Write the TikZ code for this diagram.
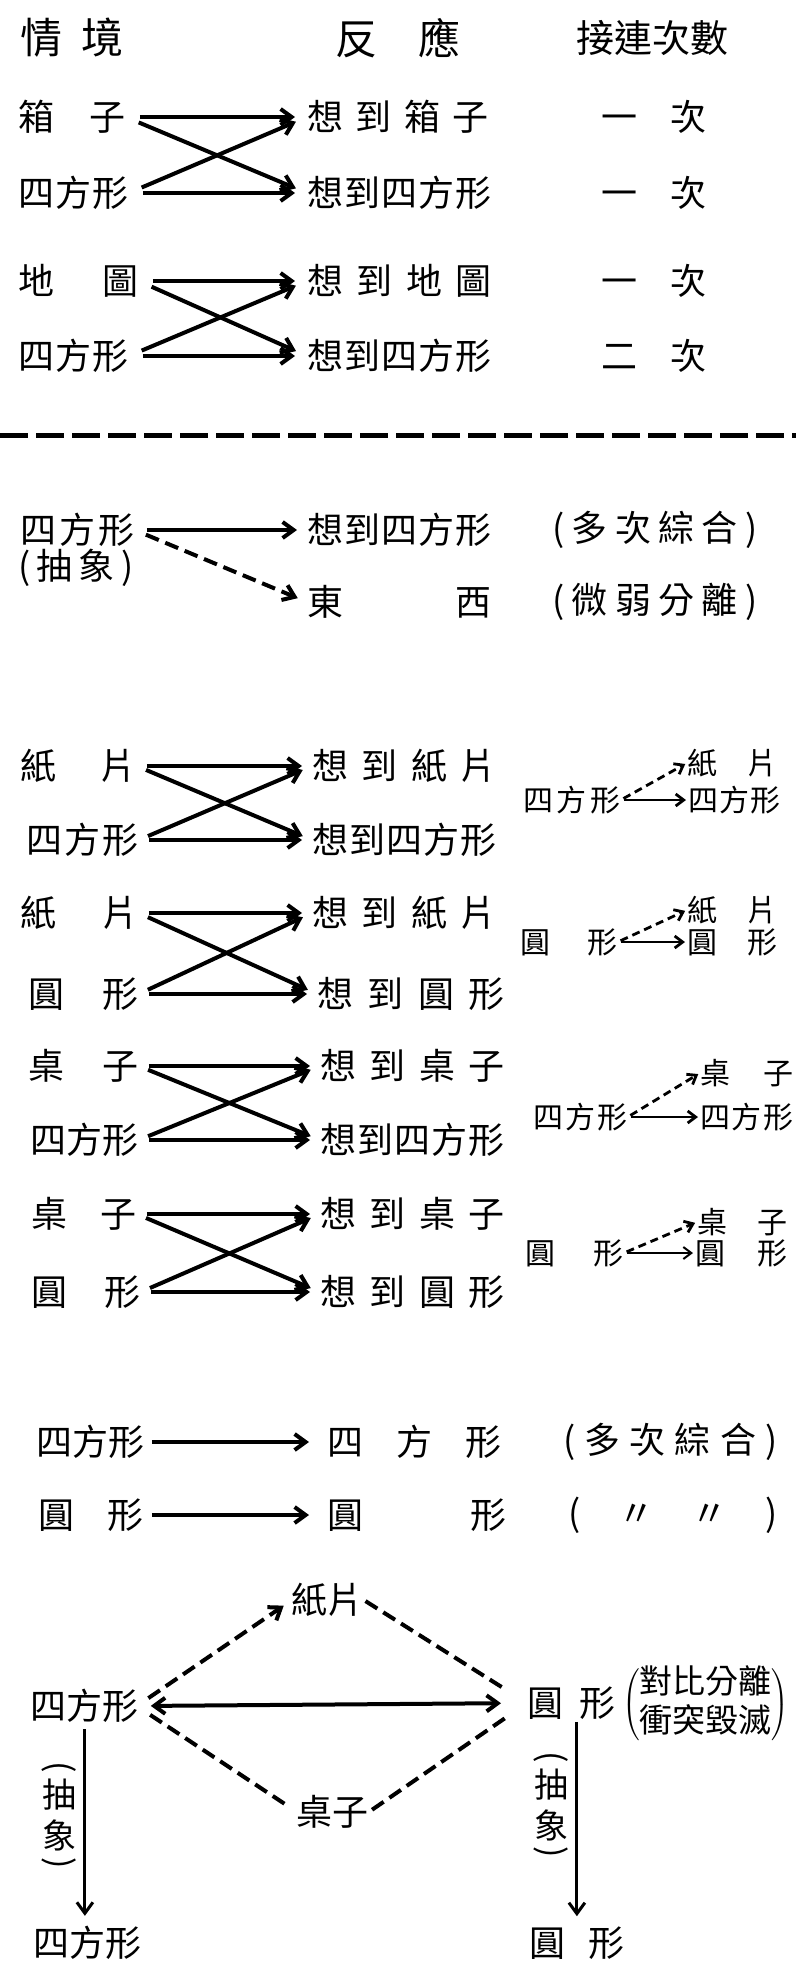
\documentclass[tikz,border=0pt]{standalone}
\usepackage{fontspec}
\setmainfont{Noto Sans CJK TC}
\usetikzlibrary{arrows.meta}
\newcommand{\spreadtxt}[2]{\makebox[#1]{#2}}
\begin{document}
\begin{tikzpicture}[x=0.5pt,y=-0.5pt,
 lbl/.style={anchor=west, inner sep=0pt, font=\fontsize{18}{20}\selectfont},
 hdr/.style={lbl, font=\fontsize{21}{24}\selectfont},
 sml/.style={lbl, font=\fontsize{15}{17}\selectfont},
 vlab/.style={inner sep=0pt, align=center, font=\fontsize{17}{20.5}\selectfont},
 vpar/.style={inner sep=0pt, rotate=-90, font=\fontsize{17}{20}\selectfont},
 barb/.tip={Straight Barb[length=5.5pt,width=8pt]},
 sbarb/.tip={Straight Barb[length=4pt,width=6pt]},
 bigarr/.style={line width=2pt, -barb},
 dsh/.style={line width=2pt, dash pattern=on 7pt off 3.5pt},
 smlarr/.style={line width=1.4pt, -sbarb},
 smldsh/.style={line width=1.4pt, dash pattern=on 4pt off 2.5pt, -sbarb},
 varr/.style={line width=1.5pt, -barb},
]
\fill[white] (0,0) rectangle (796,1967);
\path[use as bounding box] (0,0) rectangle (796,1967);

% ---------- section 1
\node[hdr] (h1) at (20,38) {\spreadtxt{51.5pt}{情\hfill 境}};
\node[hdr] (h2) at (335,38) {\spreadtxt{62.5pt}{反\hfill 應}};
\node[lbl, font=\fontsize{19}{22}\selectfont] (h3) at (578,38) {\spreadtxt{74pt}{接\hfill 連\hfill 次\hfill 數}};

\node[lbl] (a1) at (18,117) {\spreadtxt{53.5pt}{箱\hfill 子}};
\node[lbl] (a2) at (18,193) {\spreadtxt{55pt}{四\hfill 方\hfill 形}};
\node[lbl] (a3) at (18,281) {\spreadtxt{60pt}{地\hfill 圖}};
\node[lbl] (a4) at (18,356) {\spreadtxt{55pt}{四\hfill 方\hfill 形}};

\node[lbl] (b1) at (307,117) {\spreadtxt{90.5pt}{想\hfill 到\hfill 箱\hfill 子}};
\node[lbl] (b2) at (307,193) {\spreadtxt{92pt}{想\hfill 到\hfill 四\hfill 方\hfill 形}};
\node[lbl] (b3) at (307,281) {\spreadtxt{92pt}{想\hfill 到\hfill 地\hfill 圖}};
\node[lbl] (b4) at (307,356) {\spreadtxt{92pt}{想\hfill 到\hfill 四\hfill 方\hfill 形}};

\node[lbl] (c1) at (601,117) {\spreadtxt{52.5pt}{一\hfill 次}};
\node[lbl] (c2) at (601,193) {\spreadtxt{52.5pt}{一\hfill 次}};
\node[lbl] (c3) at (601,281) {\spreadtxt{52.5pt}{一\hfill 次}};
\node[lbl] (c4) at (601,356) {\spreadtxt{52.5pt}{二\hfill 次}};

\begin{scope}[shorten <=7pt, shorten >=6pt]
\draw[bigarr] (a1.east) -- (b1.west);
\draw[bigarr] (a1.east) -- (b2.west);
\draw[bigarr] (a2.east) -- (b1.west);
\draw[bigarr] (a2.east) -- (b2.west);
\draw[bigarr] (a3.east) -- (b3.west);
\draw[bigarr] (a3.east) -- (b4.west);
\draw[bigarr] (a4.east) -- (b3.west);
\draw[bigarr] (a4.east) -- (b4.west);
\end{scope}

% divider
\draw[line width=2.5pt, dash pattern=on 14pt off 4pt] (0,435) -- (796,435);

% ---------- section 2
\node[lbl] (d1) at (20,530) {\spreadtxt{57pt}{四\hfill 方\hfill 形}};
\node[lbl] (d2) at (18,568) {\spreadtxt{57.5pt}{(\hfill 抽\hfill 象\hfill )}};
\node[lbl] (e1) at (307,530) {\spreadtxt{92pt}{想\hfill 到\hfill 四\hfill 方\hfill 形}};
\node[lbl] (e2) at (307,602) {\spreadtxt{92pt}{東\hfill 西}};
\node[lbl] (f1) at (552,530) {\spreadtxt{102.5pt}{(\hfill 多\hfill 次\hfill 綜\hfill 合\hfill )}};
\node[lbl] (f2) at (552,602) {\spreadtxt{102.5pt}{(\hfill 微\hfill 弱\hfill 分\hfill 離\hfill )}};
\draw[bigarr, shorten <=6pt, shorten >=5pt] (d1.east) -- (e1.west);
\draw[bigarr, dsh, shorten <=6pt, shorten >=5pt] (d1.east) -- (e2.west);

% ---------- section 3
\node[lbl] (g1) at (20,766) {\spreadtxt{58pt}{紙\hfill 片}};
\node[lbl] (g2) at (26,840) {\spreadtxt{56pt}{四\hfill 方\hfill 形}};
\node[lbl] (g3) at (20,913) {\spreadtxt{59pt}{紙\hfill 片}};
\node[lbl] (g4) at (28,994) {\spreadtxt{55pt}{圓\hfill 形}};
\node[lbl] (g5) at (28,1066) {\spreadtxt{55pt}{桌\hfill 子}};
\node[lbl] (g6) at (31,1140) {\spreadtxt{53.5pt}{四\hfill 方\hfill 形}};
\node[lbl] (g7) at (31,1214) {\spreadtxt{52.5pt}{桌\hfill 子}};
\node[lbl] (g8) at (31,1292) {\spreadtxt{54.5pt}{圓\hfill 形}};

\node[lbl] (k1) at (312,766) {\spreadtxt{92pt}{想\hfill 到\hfill 紙\hfill 片}};
\node[lbl] (k2) at (312,840) {\spreadtxt{92pt}{想\hfill 到\hfill 四\hfill 方\hfill 形}};
\node[lbl] (k3) at (312,913) {\spreadtxt{92pt}{想\hfill 到\hfill 紙\hfill 片}};
\node[lbl] (k4) at (317,994) {\spreadtxt{93.5pt}{想\hfill 到\hfill 圓\hfill 形}};
\node[lbl] (k5) at (320,1066) {\spreadtxt{92pt}{想\hfill 到\hfill 桌\hfill 子}};
\node[lbl] (k6) at (320,1140) {\spreadtxt{92pt}{想\hfill 到\hfill 四\hfill 方\hfill 形}};
\node[lbl] (k7) at (320,1214) {\spreadtxt{92pt}{想\hfill 到\hfill 桌\hfill 子}};
\node[lbl] (k8) at (320,1292) {\spreadtxt{92pt}{想\hfill 到\hfill 圓\hfill 形}};

\begin{scope}[shorten <=5pt, shorten >=5pt]
\draw[bigarr] (g1.east) -- (k1.west);
\draw[bigarr] (g1.east) -- (k2.west);
\draw[bigarr] (g2.east) -- (k1.west);
\draw[bigarr] (g2.east) -- (k2.west);
\draw[bigarr] (g3.east) -- (k3.west);
\draw[bigarr] (g3.east) -- (k4.west);
\draw[bigarr] (g4.east) -- (k3.west);
\draw[bigarr] (g4.east) -- (k4.west);
\draw[bigarr] (g5.east) -- (k5.west);
\draw[bigarr] (g5.east) -- (k6.west);
\draw[bigarr] (g6.east) -- (k5.west);
\draw[bigarr] (g6.east) -- (k6.west);
\draw[bigarr] (g7.east) -- (k7.west);
\draw[bigarr] (g7.east) -- (k8.west);
\draw[bigarr] (g8.east) -- (k7.west);
\draw[bigarr] (g8.east) -- (k8.west);
\end{scope}

% right column
\node[sml] (r1) at (523,800) {\spreadtxt{48.5pt}{四\hfill 方\hfill 形}};
\node[sml] (t1a) at (687,763) {\spreadtxt{45pt}{紙\hfill 片}};
\node[sml] (t1b) at (688,800) {\spreadtxt{46pt}{四\hfill 方\hfill 形}};
\node[sml] (r2) at (520,942) {\spreadtxt{48.5pt}{圓\hfill 形}};
\node[sml] (t2a) at (687,910) {\spreadtxt{45pt}{紙\hfill 片}};
\node[sml] (t2b) at (687,942) {\spreadtxt{45pt}{圓\hfill 形}};
\node[sml] (r3) at (533,1117) {\spreadtxt{47pt}{四\hfill 方\hfill 形}};
\node[sml] (t3a) at (700,1073) {\spreadtxt{46.5pt}{桌\hfill 子}};
\node[sml] (t3b) at (700,1117) {\spreadtxt{46.5pt}{四\hfill 方\hfill 形}};
\node[sml] (r4) at (525,1253) {\spreadtxt{49pt}{圓\hfill 形}};
\node[sml] (t4a) at (697,1222) {\spreadtxt{45pt}{桌\hfill 子}};
\node[sml] (t4b) at (695,1253) {\spreadtxt{46pt}{圓\hfill 形}};

\begin{scope}[shorten <=1.5pt, shorten >=1pt]
\draw[smlarr] (r1.east) -- (t1b.west);
\draw[smldsh] (r1.east) -- (t1a.west);
\draw[smlarr] (r2.east) -- (t2b.west);
\draw[smldsh] (r2.east) -- (t2a.west);
\draw[smlarr] (r3.east) -- (t3b.west);
\draw[smldsh] (r3.east) -- (t3a.west);
\draw[smlarr, line width=1pt] (r4.east) -- (t4b.west);
\draw[smldsh] (r4.east) -- (t4a.west);
\end{scope}

% ---------- section 4
\node[lbl] (s1) at (38,1442) {\spreadtxt{52.5pt}{四\hfill 方\hfill 形}};
\node[lbl] (s1t) at (327,1442) {\spreadtxt{87pt}{四\hfill 方\hfill 形}};
\node[lbl] (s1p) at (563,1442) {\spreadtxt{107pt}{(\hfill 多\hfill 次\hfill 綜\hfill 合\hfill )}};
\node[lbl] (s2) at (38,1515) {\spreadtxt{52.5pt}{圓\hfill 形}};
\node[lbl] (s2t) at (327,1515) {\spreadtxt{89.5pt}{圓\hfill 形}};
\node[lbl] (s2p) at (568,1515) {\spreadtxt{104.5pt}{(\hfill 〃\hfill 〃\hfill )}};
\draw[bigarr, shorten <=4pt, shorten >=9pt] (s1.east) -- (s1t.west);
\draw[bigarr, shorten <=4pt, shorten >=9pt] (s2.east) -- (s2t.west);

% ---------- section 5
\node[lbl] (p) at (292,1600) {\spreadtxt{35.5pt}{紙\hfill 片}};
\node[lbl] (q) at (33,1706) {\spreadtxt{51.5pt}{四\hfill 方\hfill 形}};
\node[lbl] (rr) at (527,1703) {\spreadtxt{44pt}{圓\hfill 形}};
\node[anchor=west, inner sep=0pt, font=\fontsize{16.5}{19.5}\selectfont] (nt) at (622,1705)
  {$\left(\begin{tabular}{@{}c@{}}對比分離\\衝突毀滅\end{tabular}\right)$};
\node[lbl] (z) at (297,1812) {\spreadtxt{35.5pt}{桌\hfill 子}};
\node[lbl] (bq) at (38,1943) {\spreadtxt{49pt}{四\hfill 方\hfill 形}};
\node[lbl] (br) at (529,1943) {\spreadtxt{47.5pt}{圓\hfill 形}};

% vertical labels
\node[vpar] (vao) at (59,1767) {(};
\node[vlab] (va) at (59,1815) {抽\\象};
\node[vpar] (vac) at (59,1863) {)};
\node[vpar] (vbo) at (551,1757) {(};
\node[vlab] (vb) at (551,1805) {抽\\象};
\node[vpar] (vbc) at (551,1852) {)};

\draw[line width=2pt, barb-barb, shorten <=7pt, shorten >=13pt] (q.east) -- (rr.west);
\draw[dsh, -barb, shorten <=7pt, shorten >=5pt] (q.east) -- (p.west);
\draw[dsh, shorten <=1pt, shorten >=12pt] (p.east) -- (rr.west);
\draw[dsh, shorten <=8pt, shorten >=5pt] (q.east) -- (z.west);
\draw[dsh, shorten <=2pt, shorten >=13pt] (z.east) -- (rr.west);
\draw[varr, shorten <=3pt, shorten >=5pt] (q.south) -- (q.south |- bq.north);
\draw[varr, shorten <=1pt, shorten >=5pt] (br.north |- rr.south) -- (br.north);
\end{tikzpicture}
\end{document}
